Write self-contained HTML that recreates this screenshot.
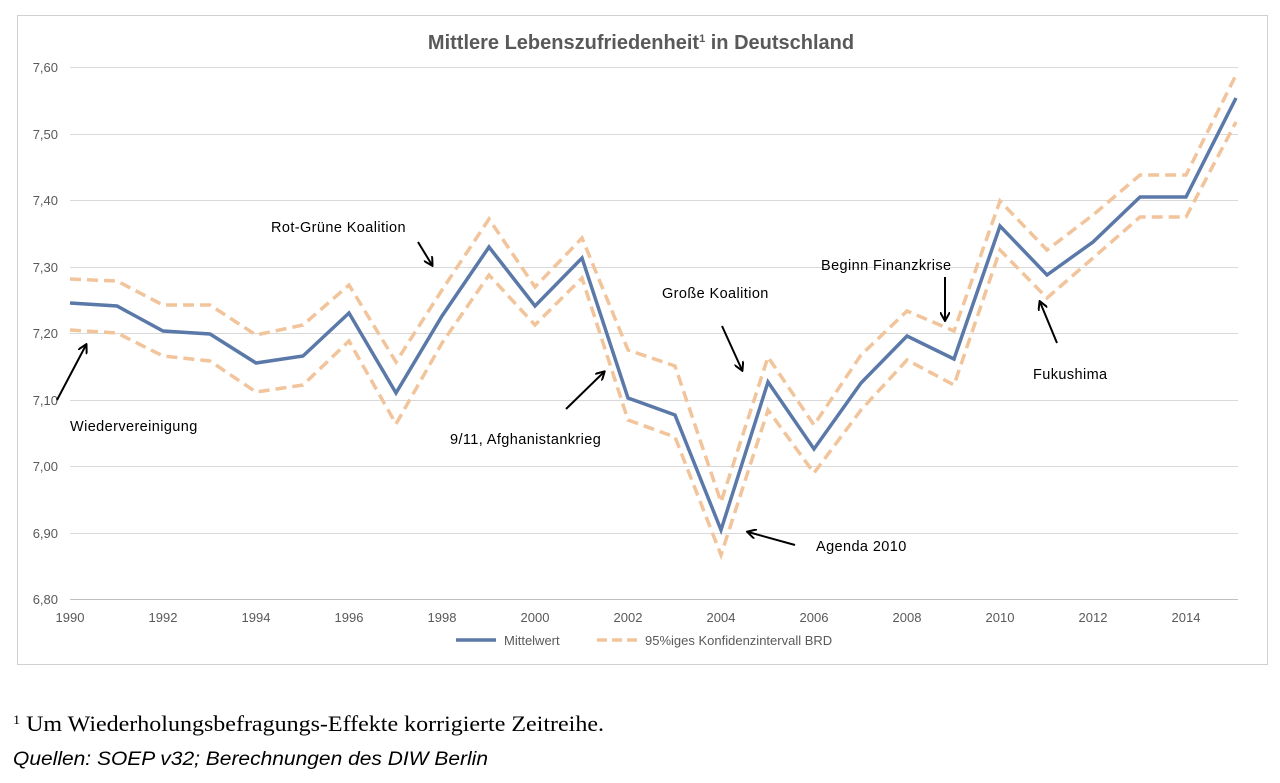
<!DOCTYPE html>
<html><head><meta charset="utf-8"><style>
body{margin:0;background:#fff;width:1280px;height:778px;overflow:hidden;font-family:"Liberation Sans",sans-serif}
</style></head><body>
<svg width="1280" height="778" xmlns="http://www.w3.org/2000/svg" font-family="Liberation Sans, sans-serif">
<rect x="17.5" y="15.5" width="1250" height="649" fill="#fff" stroke="#d0d0d0"/>
<text x="641" y="49" text-anchor="middle" font-size="20" font-weight="bold" fill="#595959">Mittlere Lebenszufriedenheit<tspan font-size="11" dy="-7">1</tspan><tspan dy="7"> in Deutschland</tspan></text>
<g stroke="#d9d9d9" stroke-width="1">
<line x1="70" x2="1238" y1="67.5" y2="67.5"/><line x1="70" x2="1238" y1="134.5" y2="134.5"/>
<line x1="70" x2="1238" y1="200.5" y2="200.5"/><line x1="70" x2="1238" y1="267.5" y2="267.5"/>
<line x1="70" x2="1238" y1="333.5" y2="333.5"/><line x1="70" x2="1238" y1="400.5" y2="400.5"/>
<line x1="70" x2="1238" y1="466.5" y2="466.5"/><line x1="70" x2="1238" y1="533.5" y2="533.5"/>
</g>
<line x1="70" x2="1238" y1="599.5" y2="599.5" stroke="#bfbfbf"/>
<g font-size="13" fill="#595959" text-anchor="end">
<text x="58" y="72">7,60</text><text x="58" y="139">7,50</text><text x="58" y="205">7,40</text>
<text x="58" y="272">7,30</text><text x="58" y="338">7,20</text><text x="58" y="405">7,10</text>
<text x="58" y="471">7,00</text><text x="58" y="538">6,90</text><text x="58" y="604">6,80</text>
</g>
<g font-size="13" fill="#595959" text-anchor="middle">
<text x="70" y="622">1990</text><text x="163" y="622">1992</text><text x="256" y="622">1994</text>
<text x="349" y="622">1996</text><text x="442" y="622">1998</text><text x="535" y="622">2000</text>
<text x="628" y="622">2002</text><text x="721" y="622">2004</text><text x="814" y="622">2006</text>
<text x="907" y="622">2008</text><text x="1000" y="622">2010</text><text x="1093" y="622">2012</text>
<text x="1186" y="622">2014</text>
</g>
<g fill="none" stroke="#f2c49b" stroke-width="3.5" stroke-dasharray="11,6">
<polyline points="70,279 117,281 163,305 210,305 256,335 303,325 349,285 396,362 442,290 489,219 535,287 582,238 628,350 675,366 721,502 768,357 814,425 861,355 907,311 954,331 1000,201 1047,250 1093,215 1140,175 1186,175 1236,75"/>
<polyline points="70,330 117,333 163,356 210,361 256,392 303,385 349,341 396,424 442,343 489,275 535,325 582,278 628,420 675,437 721,555 768,410 814,473 861,410 907,360 954,385 1000,250 1047,298 1093,258 1140,217 1186,217 1236,122"/>
</g>
<polyline fill="none" stroke="#5a78a8" stroke-width="3.5" points="70,303 117,306 163,331 210,334 256,363 303,356 349,313 396,393 442,316 489,247 535,306 582,258 628,398 675,415 721,530 768,382 814,449 861,383 907,336 954,359 1000,226 1047,275 1093,242 1140,197 1186,197 1236,98"/>
<line x1="456" x2="496" y1="640" y2="640" stroke="#5a78a8" stroke-width="3.5"/>
<text x="504" y="645" font-size="13" fill="#595959">Mittelwert</text>
<line x1="597" x2="637" y1="640" y2="640" stroke="#f2c49b" stroke-width="3.5" stroke-dasharray="10,5"/>
<text x="645" y="645" font-size="13" fill="#595959">95%iges Konfidenzintervall BRD</text>
<g font-size="14.5" fill="#000" letter-spacing="0.4">
<text x="70" y="431">Wiedervereinigung</text>
<text x="271" y="232">Rot-Grüne Koalition</text>
<text x="450" y="444">9/11, Afghanistankrieg</text>
<text x="662" y="298">Große Koalition</text>
<text x="816" y="551">Agenda 2010</text>
<text x="821" y="270">Beginn Finanzkrise</text>
<text x="1033" y="379">Fukushima</text>
</g>
<defs><marker id="a" markerWidth="10" markerHeight="10" refX="8" refY="5" orient="auto" markerUnits="userSpaceOnUse"><path d="M0,0 L9,5 L0,10" fill="none" stroke="#000" stroke-width="2"/></marker></defs>
<g stroke="#000" stroke-width="2" marker-end="url(#a)">
<line x1="57" y1="400" x2="86" y2="345"/>
<line x1="418" y1="242" x2="432" y2="265"/>
<line x1="566" y1="409" x2="604" y2="372"/>
<line x1="722" y1="326" x2="742" y2="370"/>
<line x1="795" y1="545" x2="748" y2="532"/>
<line x1="945" y1="277" x2="945" y2="320"/>
<line x1="1057" y1="343" x2="1040" y2="302"/>
</g>
<text x="13" y="731" font-family="Liberation Serif, serif" font-size="22" fill="#000" textLength="591" lengthAdjust="spacingAndGlyphs"><tspan font-size="13" dy="-7">1</tspan><tspan dy="7"> Um Wiederholungsbefragungs-Effekte korrigierte Zeitreihe.</tspan></text>
<text x="13" y="765" font-size="19" font-style="italic" fill="#000" textLength="475" lengthAdjust="spacingAndGlyphs">Quellen: SOEP v32; Berechnungen des DIW Berlin</text>
</svg>
</body></html>
